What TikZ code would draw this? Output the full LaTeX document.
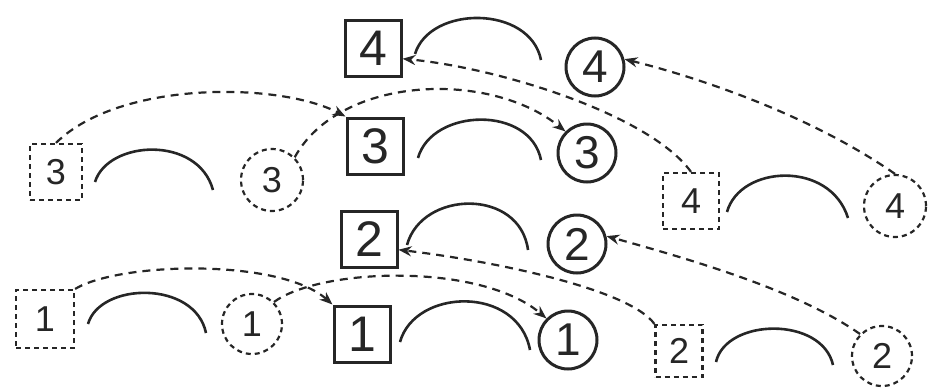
\documentclass[tikz,border=0pt]{standalone}
\usepackage{fontspec}
\setmainfont{Liberation Sans}
\usetikzlibrary{arrows.meta}
\definecolor{ink}{HTML}{262626}
\tikzset{
  ink/.style={draw=ink, text=ink},
  solidsq/.style={ink, rectangle, line width=3pt, minimum width=56pt, minimum height=56pt, inner sep=0pt, font=\fontsize{50}{50}\selectfont},
  solidci/.style={ink, circle, line width=3pt, minimum size=58pt, inner sep=0pt, font=\fontsize{46}{46}\selectfont},
  dashsq/.style={ink, rectangle, line width=2.2pt, dash pattern=on 5pt off 4pt, minimum width=52pt, minimum height=56pt, inner sep=0pt, font=\fontsize{36}{36}\selectfont},
  dashci/.style={ink, circle, line width=2.2pt, dash pattern=on 5pt off 4pt, minimum size=62pt, inner sep=0pt, font=\fontsize{36}{36}\selectfont},
  bow/.style={draw=ink, line width=2.6pt},
  link/.style={draw=ink, line width=2.2pt, dash pattern=on 8pt off 6pt, -{Stealth[length=13pt,width=10pt]}},
}
\begin{document}
\begin{tikzpicture}[x=1pt,y=-1pt]
\useasboundingbox (0,0) rectangle (928,388);
% upper row (solid)
\node[solidsq] (s4) at (373,48) {4};
\node[solidci] (c4) at (595,67) {4};
\node[solidsq] (s3) at (375,146) {3};
\node[solidci] (c3) at (587,153) {3};
\node[solidsq] (s2) at (369,239) {2};
\node[solidci] (c2) at (577,244) {2};
\node[solidsq] (s1) at (362,334) {1};
\node[solidci] (c1) at (568,340) {1};
% dashed copies
\node[dashsq] (ds3) at (56,172) {3};
\node[dashci] (dc3) at (272,180) {3};
\node[dashsq, minimum width=58pt, minimum height=58pt] (ds1) at (45,319) {1};
\node[dashci, minimum size=60pt] (dc1) at (252,324) {1};
\node[dashsq, minimum width=56pt, minimum height=56pt] (ds4) at (691,201) {4};
\node[dashci, minimum size=62pt] (dc4) at (895,206) {4};
\node[dashsq, minimum width=47pt, minimum height=52pt] (ds2) at (679,351) {2};
\node[dashci, minimum size=60pt] (dc2) at (882,356) {2};
% arcs
\draw[bow] (95,182) .. controls (108,140) and (198,135) .. (213,190);
\draw[bow] (415,54) .. controls (430,5) and (530,5) .. (541,60);
\draw[bow] (418,158) .. controls (432,108) and (530,105) .. (541,160);
\draw[bow] (727,212) .. controls (740,165) and (830,160) .. (848,218);
\draw[bow] (407,245) .. controls (422,190) and (520,188) .. (528,250);
\draw[bow] (400,342) .. controls (415,288) and (518,285) .. (530,350);
\draw[bow] (88,324) .. controls (100,282) and (195,280) .. (206,333);
\draw[bow] (716,362) .. controls (726,318) and (822,316) .. (833,365);
% links
\draw[link] (ds3.north) .. controls (120,80) and (280,82) .. (s3.north west);
\draw[link] (dc3.north east) .. controls (340,75) and (490,70) .. (c3.north west);
\draw[link] (ds4.north) .. controls (650,115) and (500,68) .. (s4.-20);
\draw[link] (dc4.north) .. controls (810,115) and (700,78) .. (c4.15);
\draw[link] (ds1.north east) .. controls (120,262) and (280,258) .. (s1.north west);
\draw[link] (dc1.north east) .. controls (320,268) and (480,262) .. (c1.north west);
\draw[link] (ds2.north west) .. controls (630,290) and (500,262) .. (s2.-20);
\draw[link] (dc2.north west) .. controls (800,292) and (700,262) .. (c2.15);
\end{tikzpicture}
\end{document}
